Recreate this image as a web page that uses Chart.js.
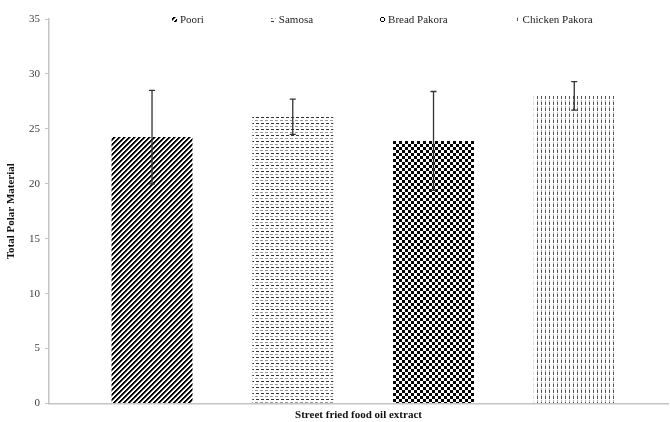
<!DOCTYPE html>
<html>
<head>
<meta charset="utf-8">
<script src="https://cdn.jsdelivr.net/npm/chart.js@4/dist/chart.umd.min.js"></script>
<style>
  html, body { margin: 0; padding: 0; background: #fff; }
  #wrap { width: 670px; height: 422px; }
</style>
</head>
<body>
<div id="wrap"><canvas id="chart"></canvas></div>
<script>
// data
const categories = ['Poori', 'Samosa', 'Bread Pakora', 'Chicken Pakora'];
const meanValues = [24.25, 26.1, 23.9, 28.0];
const errorValues = [4.25, 1.6, 4.5, 1.3];
const yTicks = [0, 5, 10, 15, 20, 25, 30, 35];

const serif = '"Liberation Serif", "Times New Roman", serif';

// builds a small tile and turns it into a canvas pattern
function makePattern(w, h, paint) {
  const c = document.createElement('canvas');
  c.width = w;
  c.height = h;
  const g = c.getContext('2d');
  g.fillStyle = '#fff';
  g.fillRect(0, 0, w, h);
  paint(g);
  return document.getElementById('chart').getContext('2d').createPattern(c, 'repeat');
}

// diagonal stripes for Poori
const pooriFill = makePattern(5, 5, g => {
  for (let y = 0; y < 5; y++) {
    for (let x = 0; x < 5; x++) {
      const k = (x + y) % 5;
      if (k < 2) { g.fillStyle = '#000'; g.fillRect(x, y, 1, 1); }
      else if (k === 2) { g.fillStyle = '#777'; g.fillRect(x, y, 1, 1); }
    }
  }
});

// horizontal dashes for Samosa
const samosaFill = makePattern(5, 6, g => {
  g.fillStyle = '#999';
  g.fillRect(0, 0, 3, 1);
  g.fillStyle = '#333';
  g.fillRect(1, 3, 3, 1);
});

// checkerboard for Bread Pakora
const breadFill = makePattern(6, 6, g => {
  g.fillStyle = '#000';
  g.fillRect(0, 0, 3, 3);
  g.fillRect(3, 3, 3, 3);
});

// vertical dashes for Chicken Pakora
const chickenFill = makePattern(4, 6, g => {
  g.fillStyle = '#555';
  g.fillRect(1, 0, 1, 3);
  g.fillStyle = '#b5b5b5';
  g.fillRect(1, 4, 1, 2);
});

const fills = [pooriFill, samosaFill, breadFill, chickenFill];

// error bars drawn from the same y scale as the bars
const errorBars = {
  id: 'errorBars',
  afterDatasetsDraw(chart) {
    const ctx = chart.ctx;
    const yScale = chart.scales.y;
    const meta = chart.getDatasetMeta(0);
    ctx.save();
    ctx.strokeStyle = '#333';
    ctx.lineWidth = 1.3;
    meta.data.forEach((bar, i) => {
      const top = yScale.getPixelForValue(meanValues[i] + errorValues[i]);
      const bottom = yScale.getPixelForValue(meanValues[i] - errorValues[i]);
      ctx.beginPath();
      ctx.moveTo(bar.x, top);
      ctx.lineTo(bar.x, bottom);
      ctx.moveTo(bar.x - 3, top);
      ctx.lineTo(bar.x + 3, top);
      ctx.moveTo(bar.x - 3, bottom);
      ctx.lineTo(bar.x + 3, bottom);
      ctx.stroke();
    });
    ctx.restore();
  }
};

// legend sits inside the plot, on one row at the top
const patternLegend = {
  id: 'patternLegend',
  afterDraw(chart) {
    const ctx = chart.ctx;
    ctx.save();
    ctx.font = '11px ' + serif;
    ctx.textBaseline = 'middle';
    let x = 172;
    const y = 20;
    categories.forEach((name, i) => {
      ctx.fillStyle = fills[i];
      ctx.fillRect(x, y - 3, 5, 5);
      ctx.fillStyle = '#222';
      ctx.fillText(name, x + 8, y);
      x += 8 + ctx.measureText(name).width + 67;
    });
    ctx.restore();
  }
};

new Chart(document.getElementById('chart').getContext('2d'), {
  type: 'bar',
  data: {
    datasets: [{
      label: 'Total Polar Material',
      data: meanValues.map((v, i) => ({ x: i, y: v })),
      backgroundColor: fills,
      borderWidth: 0,
      categoryPercentage: 1,
      barPercentage: 0.575
    }]
  },
  options: {
    responsive: true,
    maintainAspectRatio: false,
    animation: false,
    layout: { padding: { top: 19, right: 2, bottom: 0, left: 0 } },
    plugins: {
      legend: { display: false },
      tooltip: { enabled: false }
    },
    scales: {
      x: {
        type: 'linear',
        offset: false,
        min: -0.732,
        max: 3.666,
        // one tick per category so the bar width follows the category spacing
        afterBuildTicks(scale) { scale.ticks = categories.map((c, i) => ({ value: i })); },
        grid: { display: false, offset: false },
        border: { color: '#c4c4c4', width: 1.5 },
        ticks: { display: false },
        title: {
          display: true,
          text: 'Street fried food oil extract',
          font: { family: serif, size: 11, weight: 'bold' },
          color: '#111',
          padding: { top: 2, bottom: 0 }
        },
        afterFit(scale) { scale.height = 18.5; }
      },
      y: {
        min: 0,
        max: 35,
        afterBuildTicks(scale) { scale.ticks = yTicks.map(v => ({ value: v })); },
        grid: { drawOnChartArea: false, drawTicks: true, tickLength: 4, color: '#c4c4c4' },
        border: { color: '#c4c4c4', width: 1.5 },
        ticks: {
          font: { family: serif, size: 11 },
          color: '#404040',
          padding: 5
        },
        title: {
          display: true,
          text: 'Total Polar Material',
          font: { family: serif, size: 11, weight: 'bold' },
          color: '#111',
          padding: { top: 5, bottom: 0 }
        },
        afterFit(scale) { scale.width = 49; }
      }
    }
  },
  plugins: [errorBars, patternLegend]
});
</script>
</body>
</html>
